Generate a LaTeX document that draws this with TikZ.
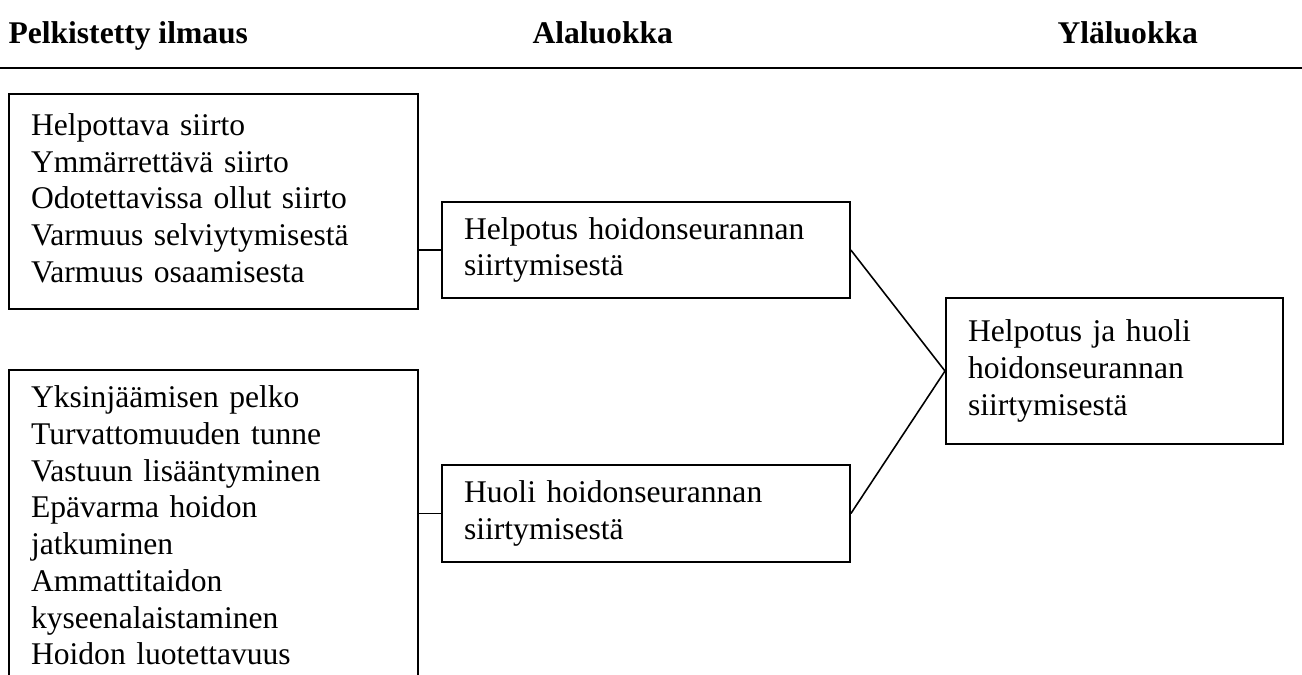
\documentclass[tikz,border=0pt]{standalone}
\usepackage{fontspec}
\setmainfont{Liberation Serif}
\usetikzlibrary{positioning}

\begin{document}
\begin{tikzpicture}[x=0.38pt,y=-0.38pt,
    otsikko/.style={anchor=base west, inner sep=0pt, font=\fontsize{12pt}{13.95pt}\selectfont\bfseries},
    laatikko/.style={draw, line width=0.75pt, anchor=north west, align=left,
      inner xsep=8.4pt, inner ysep=0pt, font=\fontsize{12pt}{13.95pt}\selectfont},
    yhteys/.style={line width=0.6pt}]
  \useasboundingbox (0,0) rectangle (1302,674);
  \clip (0,0) rectangle (1302,674);

  % Otsikot
  \node[otsikko] (pelk) at (8,43) {Pelkistetty ilmaus};
  \node[otsikko] (ala) at (532,43) {Alaluokka};
  \node[otsikko] (yla) at (1057,43) {Yläluokka};
  \draw[line width=0.8pt] (0,68) -- (1302,68);

  % Pelkistetyt ilmaukset
  \node[laatikko, text width=138.6pt, minimum height=81.7pt] (ilm1) at (8,93)
    {\strut Helpottava siirto\\Ymmärrettävä siirto\\Odotettavissa ollut siirto\\Varmuus selviytymisestä\\Varmuus osaamisesta\strut};
  \node[laatikko, text width=138.6pt, minimum height=120.8pt] (ilm2) at (8,369)
    {\strut Yksinjäämisen pelko\\Turvattomuuden tunne\\Vastuun lisääntyminen\\Epävarma hoidon\\jatkuminen\\Ammattitaidon\\kyseenalaistaminen\\Hoidon luotettavuus\strut};

  % Alaluokat
  \node[laatikko, text width=138.2pt, minimum height=36.5pt] (ala1) at (441,201)
    {\strut Helpotus hoidonseurannan\\siirtymisestä\strut};
  \node[laatikko, text width=138.2pt, minimum height=36.9pt] (ala2) at (441,464)
    {\strut Huoli hoidonseurannan\\siirtymisestä\strut};

  % Yläluokka
  \node[laatikko, text width=111.2pt, minimum height=55.5pt] (yla1) at (945,297)
    {\strut Helpotus ja huoli\\hoidonseurannan\\siirtymisestä\strut};

  % Yhteydet
  \draw[yhteys] (ala1.west -| ilm1.east) -- (ala1.west);
  \draw[yhteys] (ala2.west -| ilm2.east) -- (ala2.west);
  \draw[yhteys] (ala1.east) -- (yla1.west);
  \draw[yhteys] (ala2.east) -- (yla1.west);
\end{tikzpicture}
\end{document}
